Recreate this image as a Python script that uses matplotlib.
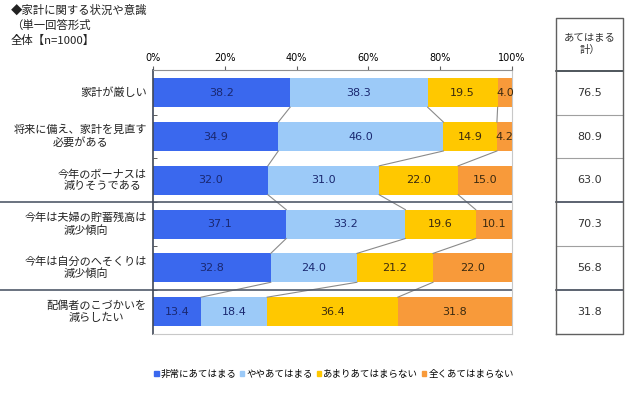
import matplotlib
matplotlib.use("Agg")
import matplotlib.pyplot as plt
import matplotlib.transforms as mtrans
from matplotlib.patches import Patch
import numpy as np

plt.rcParams['font.family'] = ['Noto Sans CJK JP', 'DejaVu Sans']

items = ["家計が厳しい",
         "将来に備え、家計を見直す\n必要がある",
         "今年のボーナスは\n減りそうである",
         "今年は夫婦の貯蓄残高は\n減少傾向",
         "今年は自分のへそくりは\n減少傾向",
         "配偶者のこづかいを\n減らしたい"]
very = [38.2, 34.9, 32.0, 37.1, 32.8, 13.4]
somewhat = [38.3, 46.0, 31.0, 33.2, 24.0, 18.4]
not_much = [19.5, 14.9, 22.0, 19.6, 21.2, 36.4]
not_at_all = [4.0, 4.2, 15.0, 10.1, 22.0, 31.8]
applies_total = [76.5, 80.9, 63.0, 70.3, 56.8, 31.8]
series_names = ["非常にあてはまる", "ややあてはまる", "あまりあてはまらない", "全くあてはまらない"]
colors = ["#3a68ee", "#9ccaf8", "#ffc800", "#f89a3a"]

W, H = 640, 398
fig = plt.figure(figsize=(6.4, 3.98), dpi=100)
ax = fig.add_axes([153 / W, 1 - 333.5 / H, (512 - 153) / W, (333.5 - 70) / H])

y = np.arange(len(items))
data = np.array([very, somewhat, not_much, not_at_all])
left = np.zeros(len(items))
bh = 0.66
for k in range(4):
    ax.barh(y, data[k], left=left, height=bh, color=colors[k], label=series_names[k])
    for i in range(len(items)):
        tc = "#1a2870" if k < 2 else "#3a2a10"
        ax.text(left[i] + data[k][i] / 2, y[i], f"{data[k][i]:.1f}", ha="center", va="center",
                fontsize=8, color=tc, family="DejaVu Sans")
    left = left + data[k]

# connector lines between bars
cum = np.cumsum(data, axis=0)
for i in range(len(items) - 1):
    for k in range(3):
        ax.plot([cum[k][i], cum[k][i + 1]], [y[i] + bh / 2, y[i + 1] - bh / 2],
                color="#8a8a8a", lw=0.8, zorder=1)

ax.set_xlim(0, 100)
ax.set_ylim(5.5, -0.52)
ax.xaxis.tick_top()
ax.set_xticks(range(0, 101, 20))
ax.set_xticklabels([f"{v}%" for v in range(0, 101, 20)], fontsize=7, family="DejaVu Sans")
ax.tick_params(axis="x", length=3, pad=2, color="#606060")
ax.set_yticks([])
ax.set_yticks(np.arange(0.5, 5, 1), minor=True)
ax.tick_params(axis="y", which="minor", length=3, direction="in", color="#404040")
ax.spines["left"].set_color("#404858")
ax.spines["left"].set_linewidth(1.2)
ax.spines["top"].set_color("#909090")
ax.spines["right"].set_color("#c8c8c8")
ax.spines["bottom"].set_color("#c8c8c8")

for i, lab in enumerate(items):
    ax.text(-0.017, y[i], lab, transform=ax.get_yaxis_transform(), ha="right", va="center",
            multialignment="center", fontsize=8, color="#222222")

# group separators
for sy in [2.5, 4.5]:
    ax.plot([-153 / 359, 1], [sy, sy], transform=ax.get_yaxis_transform(), color="#505a6a",
            lw=1.2, clip_on=False)

# summary table
bt = mtrans.blended_transform_factory(fig.transFigure, ax.transData)
tx0, tx1 = 556 / W, 623 / W
for b in [0.5, 1.5, 3.5]:
    fig.lines.append(plt.Line2D([tx0, tx1], [b, b], transform=bt, color="#a0a0a0", lw=0.8))
for b in [2.5, 4.5]:
    fig.lines.append(plt.Line2D([tx0, tx1], [b, b], transform=bt, color="#404858", lw=1.2))
fig.lines.append(plt.Line2D([tx0, tx1], [-0.5, -0.5], transform=bt, color="#303840", lw=1.2))
fig.lines.append(plt.Line2D([tx0, tx0, tx1, tx1, tx0], [1 - 333.5 / H, 1 - 18 / H, 1 - 18 / H, 1 - 333.5 / H, 1 - 333.5 / H],
                            transform=fig.transFigure, color="#606060", lw=1))
for i, v in enumerate(applies_total):
    fig.text((tx0 + tx1) / 2, y[i], f"{v:.1f}", transform=bt, ha="center", va="center",
             fontsize=8, color="#333333", family="DejaVu Sans")
fig.text((tx0 + tx1) / 2, 1 - 44 / H, "あてはまる\n計）", ha="center", va="center",
         multialignment="center", fontsize=7.5, color="#333333", linespacing=1.35)

# title block
fig.text(11 / W, 1 - 10 / H, "◆家計に関する状況や意識", fontsize=8.2, va="center", color="#222222")
fig.text(11 / W, 1 - 25 / H, "（単一回答形式", fontsize=8.2, va="center", color="#222222")
fig.text(11 / W, 1 - 40 / H, "全体【n=1000】", fontsize=8.2, va="center", color="#222222")

handles = [Patch(color=c) for c in colors]
fig.legend(handles, series_names, loc="center", bbox_to_anchor=(334 / W, 1 - 374 / H), ncol=4,
           frameon=False, fontsize=6.8, handlelength=0.45, handleheight=0.45, handletextpad=0.25,
           columnspacing=0.35)

plt.savefig("out.png", dpi=100)
